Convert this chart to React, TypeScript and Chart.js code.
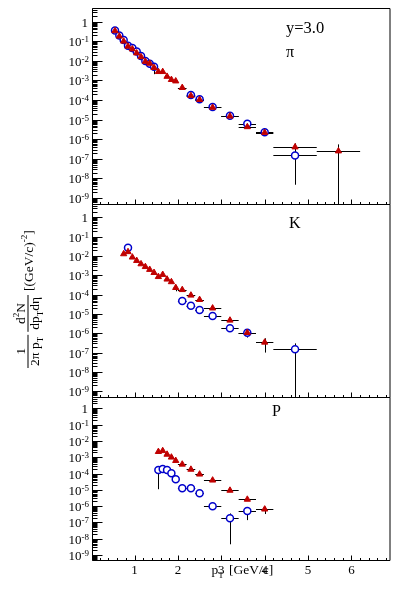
import { useEffect, useRef } from 'react';
import { Chart, registerables } from 'chart.js';

Chart.register(...registerables);

const W = 396;
const H = 602;
const SERIF = '"Liberation Serif", "Times New Roman", serif';
const RED = '#c00000';
const BLUE = '#0000cc';

const X_MIN = 0.02;
const X_MAX = 6.9;
const Y_MIN = 5e-10;
const Y_MAX = 5;

const xTickValues = [1, 2, 3, 4, 5, 6];
const xTickLabels = ['1', '2', '3', '4', '5', '6'];
const yDecades = [0, -1, -2, -3, -4, -5, -6, -7, -8, -9];

// ---- pions ----
const piRedX = [0.55, 0.65, 0.75, 0.85, 0.95, 1.05, 1.15, 1.25, 1.35, 1.45, 1.55, 1.65, 1.75, 1.85, 1.95, 2.1, 2.3, 2.5, 2.8, 3.2, 3.6, 4.0, 4.7, 5.7];
const piRedY = [0.34, 0.18, 0.10, 0.055, 0.040, 0.025, 0.016, 0.0093, 0.0074, 0.0045, 0.0028, 0.0028, 0.0016, 0.0011, 0.00093, 0.00043, 0.000166, 0.000105, 4.2e-5, 1.5e-5, 4.3e-6, 2.2e-6, 4.0e-7, 2.5e-7];
const piRedXErr = [0.05, 0.05, 0.05, 0.05, 0.05, 0.05, 0.05, 0.05, 0.05, 0.05, 0.05, 0.05, 0.05, 0.05, 0.05, 0.1, 0.1, 0.1, 0.2, 0.2, 0.2, 0.2, 0.5, 0.5];
const piRedYLow = [null, null, null, null, null, null, null, null, null, null, null, null, null, null, null, null, null, null, null, null, null, null, 2.6e-7, 1e-12];
const piRedYHigh = [null, null, null, null, null, null, null, null, null, null, null, null, null, null, null, null, null, null, null, null, null, null, 6.2e-7, 5.5e-7];

const piBlueX = [0.55, 0.65, 0.75, 0.85, 0.95, 1.05, 1.15, 1.25, 1.35, 1.45, 2.3, 2.5, 2.8, 3.2, 3.6, 4.0, 4.7];
const piBlueY = [0.36, 0.20, 0.115, 0.059, 0.045, 0.030, 0.018, 0.010, 0.0071, 0.0051, 1.8e-4, 1.1e-4, 4.4e-5, 1.6e-5, 6.3e-6, 2.3e-6, 1.5e-7];
const piBlueXErr = [0.05, 0.05, 0.05, 0.05, 0.05, 0.05, 0.05, 0.05, 0.05, 0.05, 0.1, 0.1, 0.2, 0.2, 0.2, 0.2, 0.5];
const piBlueYLow = [null, null, null, null, null, null, null, null, null, 2.1e-3, null, null, null, null, null, null, 4.8e-9];
const piBlueYHigh = [null, null, null, null, null, null, null, null, null, 7.2e-3, null, null, null, null, null, null, 3.2e-7];

// ---- kaons ----
const kRedX = [0.75, 0.85, 0.95, 1.05, 1.15, 1.25, 1.35, 1.45, 1.55, 1.65, 1.75, 1.85, 1.95, 2.1, 2.3, 2.5, 2.8, 3.2, 3.6, 4.0];
const kRedY = [0.0129, 0.0166, 0.0087, 0.0058, 0.0039, 0.0028, 0.0020, 0.00138, 0.00085, 0.0011, 0.00063, 0.00046, 0.00023, 0.00018, 9.3e-5, 5.5e-5, 2.0e-5, 4.7e-6, 1.07e-6, 3.4e-7];
const kRedXErr = [0.05, 0.05, 0.05, 0.05, 0.05, 0.05, 0.05, 0.05, 0.05, 0.05, 0.05, 0.05, 0.05, 0.1, 0.1, 0.1, 0.2, 0.2, 0.2, 0.2];
const kRedYLow = [null, null, null, null, null, null, null, null, null, null, null, null, 1.5e-4, null, null, null, null, null, null, 1.0e-7];
const kRedYHigh = [null, null, null, null, null, null, null, null, null, null, null, null, 3.2e-4, null, null, null, null, null, null, 5.5e-7];

const kBlueX = [0.85, 2.1, 2.3, 2.5, 2.8, 3.2, 3.6, 4.7];
const kBlueY = [0.027, 4.7e-5, 2.7e-5, 1.6e-5, 7.9e-6, 1.8e-6, 1.07e-6, 1.5e-7];
const kBlueXErr = [0.05, 0.1, 0.1, 0.1, 0.2, 0.2, 0.2, 0.5];
const kBlueYLow = [null, null, null, null, null, null, 6.0e-7, 1e-12];
const kBlueYHigh = [null, null, null, null, null, null, 1.6e-6, 3.0e-7];

// ---- protons ----
const pRedX = [1.55, 1.65, 1.75, 1.85, 1.95, 2.1, 2.3, 2.5, 2.8, 3.2, 3.6, 4.0];
const pRedY = [2.2e-3, 2.5e-3, 1.5e-3, 1.0e-3, 6.2e-4, 3.7e-4, 1.8e-4, 9.1e-5, 3.9e-5, 9.3e-6, 2.6e-6, 6.5e-7];
const pRedXErr = [0.05, 0.05, 0.05, 0.05, 0.05, 0.1, 0.1, 0.1, 0.2, 0.2, 0.2, 0.2];
const pRedYLow = [null, null, null, null, null, null, null, null, null, null, null, 3.3e-7];
const pRedYHigh = [null, null, null, null, null, null, null, null, null, null, null, 9.3e-7];

const pBlueX = [1.55, 1.65, 1.75, 1.85, 1.95, 2.1, 2.3, 2.5, 2.8, 3.2, 3.6];
const pBlueY = [1.66e-4, 1.9e-4, 1.66e-4, 1.05e-4, 4.5e-5, 1.26e-5, 1.26e-5, 6.2e-6, 9.8e-7, 1.8e-7, 5.1e-7];
const pBlueXErr = [0.05, 0.05, 0.05, 0.05, 0.05, 0.1, 0.1, 0.1, 0.2, 0.2, 0.2];
const pBlueYLow = [1.1e-5, null, null, null, null, null, null, null, null, 4.6e-9, 1.4e-7];
const pBlueYHigh = [null, null, null, null, null, null, null, null, null, 3.6e-7, 8.0e-7];

type Series = {
  x: number[];
  y: number[];
  xe: number[];
  lo: (number | null)[];
  hi: (number | null)[];
};

type Seg = { t: string; s?: 'sub' | 'sup' };

function segsWidth(ctx: CanvasRenderingContext2D, segs: Seg[], f: number) {
  let w = 0;
  for (const s of segs) {
    ctx.font = `${s.s ? Math.round(f * 0.7) : f}px ${SERIF}`;
    w += ctx.measureText(s.t).width;
  }
  return w;
}

function drawSegs(ctx: CanvasRenderingContext2D, segs: Seg[], u: number, base: number, f: number) {
  ctx.textAlign = 'left';
  ctx.textBaseline = 'alphabetic';
  for (const s of segs) {
    ctx.font = `${s.s ? Math.round(f * 0.7) : f}px ${SERIF}`;
    const dy = s.s === 'sub' ? f * 0.3 : s.s === 'sup' ? -f * 0.42 : 0;
    ctx.fillText(s.t, u, base + dy);
    u += ctx.measureText(s.t).width;
  }
  return u;
}

function drawErrors(chart: Chart, s: Series) {
  const ctx = chart.ctx;
  const xs = chart.scales.x;
  const ys = chart.scales.y;
  const a = chart.chartArea;
  ctx.save();
  ctx.beginPath();
  ctx.rect(a.left, a.top, a.right - a.left, a.bottom - a.top);
  ctx.clip();
  ctx.strokeStyle = '#000';
  ctx.lineWidth = 1;
  ctx.beginPath();
  for (let i = 0; i < s.x.length; i++) {
    const px = xs.getPixelForValue(s.x[i]);
    const py = ys.getPixelForValue(s.y[i]);
    if (s.xe[i] > 0) {
      const yy = Math.round(py) + 0.5;
      ctx.moveTo(xs.getPixelForValue(s.x[i] - s.xe[i]), yy);
      ctx.lineTo(xs.getPixelForValue(s.x[i] + s.xe[i]), yy);
    }
    const lo = s.lo[i];
    const hi = s.hi[i];
    if (lo !== null || hi !== null) {
      const xx = Math.round(px) + 0.5;
      ctx.moveTo(xx, ys.getPixelForValue(lo ?? s.y[i]));
      ctx.lineTo(xx, ys.getPixelForValue(hi ?? s.y[i]));
    }
  }
  ctx.stroke();
  ctx.restore();
}

function drawAxes(chart: Chart, showXLabels: boolean) {
  const ctx = chart.ctx;
  const xs = chart.scales.x;
  const ys = chart.scales.y;
  const a = chart.chartArea;
  ctx.save();
  ctx.strokeStyle = '#000';
  ctx.fillStyle = '#000';
  ctx.lineWidth = 1;
  ctx.beginPath();
  const L = a.left + 0.5;
  const R = a.right - 0.5;
  const T = a.top + 0.5;
  const B = a.bottom + 0.5;
  ctx.moveTo(L, T);
  ctx.lineTo(R, T);
  ctx.lineTo(R, B);
  ctx.lineTo(L, B);
  ctx.closePath();
  for (let e = -10; e <= 1; e++) {
    for (let k = 1; k <= 9; k++) {
      const v = k * Math.pow(10, e);
      if (v < Y_MIN || v > Y_MAX) continue;
      const y = Math.round(ys.getPixelForValue(v)) + 0.5;
      const len = k === 1 ? 10 : 5;
      ctx.moveTo(L, y);
      ctx.lineTo(L + len, y);
    }
  }
  for (let i = 1; i <= 34; i++) {
    const v = i * 0.2;
    if (v < X_MIN || v > X_MAX) continue;
    const x = Math.round(xs.getPixelForValue(v)) + 0.5;
    const len = i % 5 === 0 ? 5 : 2.5;
    ctx.moveTo(x, B);
    ctx.lineTo(x, B - len);
  }
  ctx.stroke();

  const xr = 89;
  for (const e of yDecades) {
    const y = ys.getPixelForValue(Math.pow(10, e));
    ctx.textBaseline = 'alphabetic';
    if (e === 0) {
      ctx.font = `13px ${SERIF}`;
      ctx.textAlign = 'right';
      ctx.fillText('1', xr - 1, y + 5);
      continue;
    }
    const exp = '-' + String(-e);
    ctx.font = `9px ${SERIF}`;
    const ew = ctx.measureText(exp).width;
    ctx.textAlign = 'left';
    ctx.fillText(exp, xr - ew, y + 1);
    ctx.font = `13px ${SERIF}`;
    const bw = ctx.measureText('10').width;
    ctx.fillText('10', xr - ew - bw, y + 5);
  }

  if (showXLabels) {
    ctx.font = `13px ${SERIF}`;
    ctx.textAlign = 'center';
    ctx.textBaseline = 'alphabetic';
    xTickValues.forEach((v, i) => {
      ctx.fillText(xTickLabels[i], xs.getPixelForValue(v), a.bottom + 13.5);
    });
  }
  ctx.restore();
}

function drawYTitle(ctx: CanvasRenderingContext2D) {
  const f = 13.5;
  ctx.save();
  ctx.fillStyle = '#000';
  ctx.translate(28, 368);
  ctx.rotate(-Math.PI / 2);
  const num1: Seg[] = [{ t: '1' }];
  const den1: Seg[] = [{ t: '2π p' }, { t: 'T', s: 'sub' }];
  const num2: Seg[] = [{ t: 'd' }, { t: '2', s: 'sup' }, { t: 'N' }];
  const den2: Seg[] = [{ t: 'dp' }, { t: 'T', s: 'sub' }, { t: 'dη' }];
  const unit: Seg[] = [{ t: '[(GeV/c)' }, { t: '-2', s: 'sup' }, { t: ']' }];
  let u = 0;
  const frac = (n: Seg[], d: Seg[]) => {
    const wn = segsWidth(ctx, n, f);
    const wd = segsWidth(ctx, d, f);
    const len = Math.max(wn, wd) + 4;
    ctx.fillRect(u, -0.5, len, 1);
    drawSegs(ctx, n, u + (len - wn) / 2, -3, f);
    drawSegs(ctx, d, u + (len - wd) / 2, 11, f);
    u += len + 3;
  };
  frac(num1, den1);
  frac(num2, den2);
  drawSegs(ctx, unit, u + 1, 5, f);
  ctx.restore();
}

function drawXTitle(ctx: CanvasRenderingContext2D) {
  ctx.save();
  ctx.fillStyle = '#000';
  const f = 13.5;
  drawSegs(ctx, [{ t: 'p' }, { t: 'T', s: 'sub' }], 211.5, 574, f);
  drawSegs(ctx, [{ t: '[GeV/c]' }], 229, 574, f);
  ctx.restore();
}

function drawText(ctx: CanvasRenderingContext2D, t: string, x: number, y: number, size: number) {
  ctx.save();
  ctx.fillStyle = '#000';
  ctx.font = `${size}px ${SERIF}`;
  ctx.textAlign = 'left';
  ctx.textBaseline = 'alphabetic';
  ctx.fillText(t, x, y);
  ctx.restore();
}

function makePanel(
  canvas: HTMLCanvasElement,
  top: number,
  bottom: number,
  red: Series,
  blue: Series,
  showXLabels: boolean,
  extra: (ctx: CanvasRenderingContext2D) => void,
) {
  const plugin = {
    id: 'rootStyle',
    beforeDatasetsDraw(chart: Chart) {
      drawErrors(chart, blue);
      drawErrors(chart, red);
    },
    afterDraw(chart: Chart) {
      drawAxes(chart, showXLabels);
      extra(chart.ctx);
    },
  };
  return new Chart(canvas, {
    type: 'scatter',
    data: {
      datasets: [
        {
          data: red.x.map((x, i) => ({ x, y: red.y[i] })),
          pointStyle: 'triangle',
          pointRadius: 3.6,
          backgroundColor: RED,
          borderColor: RED,
          borderWidth: 1,
          order: 0,
        },
        {
          data: blue.x.map((x, i) => ({ x, y: blue.y[i] })),
          pointStyle: 'circle',
          pointRadius: 3.5,
          backgroundColor: '#ffffff',
          borderColor: BLUE,
          borderWidth: 1.5,
          order: 1,
        },
      ],
    },
    options: {
      responsive: false,
      animation: false,
      events: [],
      layout: { padding: { left: 92, right: 1, top, bottom: H - bottom } },
      plugins: { legend: { display: false }, tooltip: { enabled: false } },
      scales: {
        x: { type: 'linear', min: X_MIN, max: X_MAX, display: false },
        y: { type: 'logarithmic', min: Y_MIN, max: Y_MAX, display: false },
      },
    },
    plugins: [plugin],
  });
}

export default function App() {
  const r1 = useRef<HTMLCanvasElement>(null);
  const r2 = useRef<HTMLCanvasElement>(null);
  const r3 = useRef<HTMLCanvasElement>(null);

  useEffect(() => {
    const charts = [
      makePanel(
        r1.current!,
        8,
        204,
        { x: piRedX, y: piRedY, xe: piRedXErr, lo: piRedYLow, hi: piRedYHigh },
        { x: piBlueX, y: piBlueY, xe: piBlueXErr, lo: piBlueYLow, hi: piBlueYHigh },
        false,
        (ctx) => {
          drawText(ctx, 'y=3.0', 286, 33, 16.5);
          drawText(ctx, 'π', 286, 56.5, 16);
        },
      ),
      makePanel(
        r2.current!,
        204,
        397,
        { x: kRedX, y: kRedY, xe: kRedXErr, lo: kRedYLow, hi: kRedYHigh },
        { x: kBlueX, y: kBlueY, xe: kBlueXErr, lo: kBlueYLow, hi: kBlueYHigh },
        false,
        (ctx) => {
          drawText(ctx, 'K', 289, 227.5, 16);
          drawYTitle(ctx);
        },
      ),
      makePanel(
        r3.current!,
        397,
        560,
        { x: pRedX, y: pRedY, xe: pRedXErr, lo: pRedYLow, hi: pRedYHigh },
        { x: pBlueX, y: pBlueY, xe: pBlueXErr, lo: pBlueYLow, hi: pBlueYHigh },
        true,
        (ctx) => {
          drawText(ctx, 'P', 272, 416, 16);
          drawXTitle(ctx);
        },
      ),
    ];
    return () => charts.forEach((c) => c.destroy());
  }, []);

  const cs: React.CSSProperties = { position: 'absolute', left: 0, top: 0, width: W, height: H };
  return (
    <div style={{ position: 'absolute', left: 0, top: 0, width: W, height: H, background: '#ffffff' }}>
      <canvas ref={r1} width={W} height={H} style={cs} />
      <canvas ref={r2} width={W} height={H} style={cs} />
      <canvas ref={r3} width={W} height={H} style={cs} />
    </div>
  );
}
